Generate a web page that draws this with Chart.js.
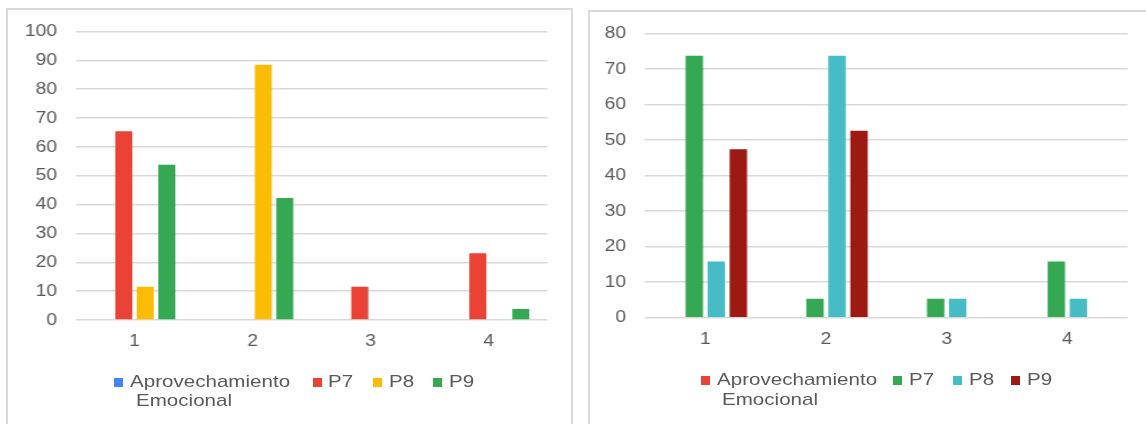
<!DOCTYPE html>
<html>
<head>
<meta charset="utf-8">
<script src="https://cdn.jsdelivr.net/npm/chart.js@4/dist/chart.umd.min.js"></script>
<style>
  html, body { margin: 0; padding: 0; background: #fff; }
  body { width: 1146px; height: 424px; position: relative; overflow: hidden; font-family: "Liberation Sans", Arial, sans-serif; }
  .panel { position: absolute; border: 2px solid #d9d9d9; box-sizing: border-box; }
  .wrap { position: absolute; top: 0; transform-origin: 0 0; }
  .wrap canvas { display: block; }
  .sq { position: absolute; width: 9px; height: 9px; }
  .lbl { position: absolute; font-size: 17px; line-height: 17px; color: #595959; white-space: nowrap; transform-origin: 0 0; transform: scaleX(1.21); }
</style>
</head>
<body>
<div class="panel" style="left:6px; top:8px; width:567px; height:430px;"></div>
<div class="panel" style="left:588px; top:10px; width:570px; height:430px;"></div>
<div class="wrap" style="left:0; transform: scaleX(1.1306);"><canvas id="chartA" width="513" height="424"></canvas></div>
<div class="wrap" style="left:580px; transform: scaleX(1.132);"><canvas id="chartB" width="500" height="424"></canvas></div>
<div id="legendA"></div>
<div id="legendB"></div>
<script>
// Category labels and series names shared by both panels
const categories = ['1', '2', '3', '4'];
const seriesNames = ['Aprovechamiento Emocional', 'P7', 'P8', 'P9'];

// Panel A values (%)
const aprovechamientoA = [0, 0, 0, 0];
const p7A = [65.4, 0, 11.5, 23.1];
const p8A = [11.5, 88.5, 0, 0];
const p9A = [53.8, 42.3, 0, 3.8];

// Panel B values (%)
const aprovechamientoB = [0, 0, 0, 0];
const p7B = [73.7, 5.3, 5.3, 15.8];
const p8B = [15.8, 73.7, 5.3, 5.3];
const p9B = [47.4, 52.6, 0, 0];

// Y-axis ranges
const yMaxA = 100;
const yMaxB = 80;
const yStep = 10;

const colorsA = ['#4285F4', '#EA4335', '#FBBC04', '#34A853'];
const colorsB = ['#EA4335', '#34A853', '#46BDC6', '#9C1A12'];

const tickFont = { family: "'Liberation Sans', Arial, sans-serif", size: 17 };
const textColor = '#595959';
const gridColor = '#d9d9d9';

function makeChart(id, seriesValues, colors, yMax, pad, yPad, catPct) {
  return new Chart(document.getElementById(id), {
    type: 'bar',
    data: {
      labels: categories,
      datasets: seriesValues.map((vals, i) => ({
        label: seriesNames[i],
        data: vals,
        backgroundColor: colors[i],
        borderWidth: 0,
        categoryPercentage: catPct,
        barPercentage: 0.79
      }))
    },
    options: {
      responsive: false,
      devicePixelRatio: 1,
      animation: false,
      layout: { padding: pad },
      plugins: { legend: { display: false }, tooltip: { enabled: false } },
      scales: {
        x: {
          grid: { display: false, drawTicks: false },
          border: { display: false },
          ticks: { color: textColor, font: tickFont, padding: 11 },
          afterFit: s => { s.height = 40; }
        },
        y: {
          min: 0,
          max: yMax,
          grid: { color: gridColor, lineWidth: 1.5, drawTicks: false },
          border: { display: false },
          ticks: { stepSize: yStep, color: textColor, font: tickFont, padding: yPad },
          afterFit: s => { s.width = pad.axisWidth; }
        }
      }
    }
  });
}

makeChart('chartA', [aprovechamientoA, p7A, p8A, p9A], colorsA, yMaxA,
  { left: 0, top: 31.5, right: 28.7, bottom: 64, axisWidth: 66.8 }, 16.4, 0.729);
makeChart('chartB', [aprovechamientoB, p7B, p8B, p9B], colorsB, yMaxB,
  { left: 0, top: 33.3, right: 16.2, bottom: 66.3, axisWidth: 57.4 }, 16.8, 0.73);

// Legends below each panel
function buildLegend(hostId, colors, items, baseline1, lineGap) {
  const host = document.getElementById(hostId);
  items.forEach((it, i) => {
    const sq = document.createElement('div');
    sq.className = 'sq';
    sq.style.left = it.sq + 'px';
    sq.style.top = (baseline1 - 9.5) + 'px';
    sq.style.background = colors[i];
    host.appendChild(sq);
    const lines = i === 0 ? seriesNames[0].split(' ') : [seriesNames[i]];
    lines.forEach((t, k) => {
      const d = document.createElement('div');
      d.className = 'lbl';
      d.textContent = t;
      d.style.left = (k === 0 ? it.tx : it.tx2) + 'px';
      d.style.top = (baseline1 + k * lineGap - 14.4) + 'px';
      host.appendChild(d);
    });
  });
}

buildLegend('legendA', colorsA, [
  { sq: 114, tx: 130, tx2: 136 },
  { sq: 313, tx: 328 },
  { sq: 373, tx: 389 },
  { sq: 433, tx: 449 }
], 387.3, 19.3);

buildLegend('legendB', colorsB, [
  { sq: 701, tx: 717, tx2: 722 },
  { sq: 893, tx: 909 },
  { sq: 953, tx: 969 },
  { sq: 1011, tx: 1027 }
], 385, 20.5);
</script>
</body>
</html>
